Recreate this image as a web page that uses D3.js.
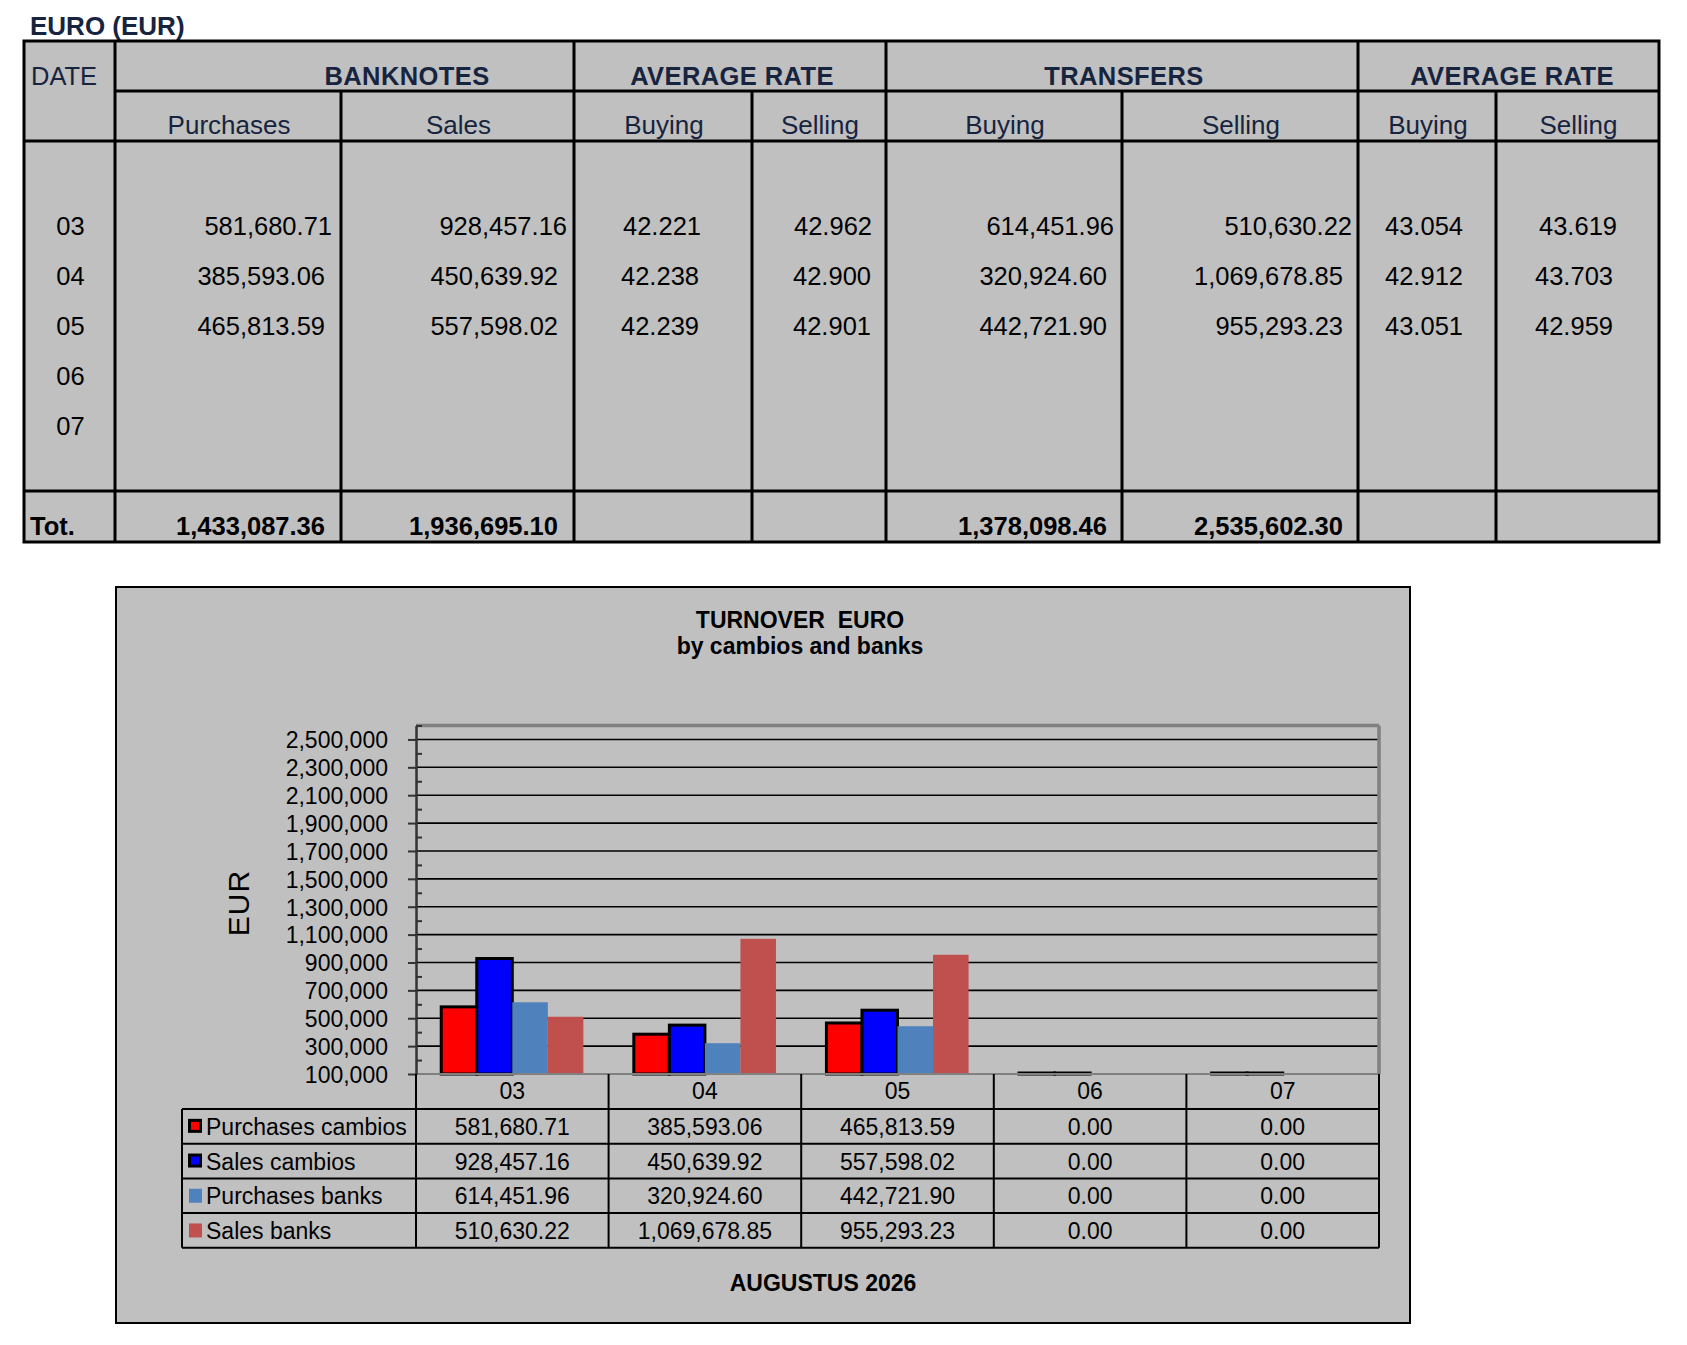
<!DOCTYPE html>
<html>
<head>
<meta charset="utf-8">
<script src="https://cdn.jsdelivr.net/npm/d3@7"></script>
<style>
  body { margin: 0; background: #fff; }
  text { font-family: "Liberation Sans", Arial, sans-serif; }
</style>
</head>
<body>
<svg id="chart" width="1687" height="1345"></svg>
<script>
// ---- data
const dates = ["03", "04", "05", "06", "07"];

// banknotes (cambios)
const bankPurchases = [581680.71, 385593.06, 465813.59, null, null];
const bankSales = [928457.16, 450639.92, 557598.02, null, null];
const bankAvgBuying = [42.221, 42.238, 42.239, null, null];
const bankAvgSelling = [42.962, 42.900, 42.901, null, null];

// transfers (banks)
const transferBuying = [614451.96, 320924.60, 442721.90, null, null];
const transferSelling = [510630.22, 1069678.85, 955293.23, null, null];
const transferAvgBuying = [43.054, 42.912, 43.051, null, null];
const transferAvgSelling = [43.619, 43.703, 42.959, null, null];

// chart series, as shown in the chart's data table
const seriesNames = ["Purchases cambios", "Sales cambios", "Purchases banks", "Sales banks"];
const purchasesCambios = [581680.71, 385593.06, 465813.59, 0, 0];
const salesCambios = [928457.16, 450639.92, 557598.02, 0, 0];
const purchasesBanks = [614451.96, 320924.60, 442721.90, 0, 0];
const salesBanks = [510630.22, 1069678.85, 955293.23, 0, 0];

const yTicks = d3.range(100000, 2500001, 200000);
const yMinorTicks = d3.range(200000, 2600001, 200000);

const money = d3.format(",.2f");
const rate = d3.format(".3f");
const navy = "#17243f";
const tfs = 25.5;   // table font size
const cfs = 23;     // chart font size

const svg = d3.select("#chart");

function line(g, x1, y1, x2, y2, w, c) {
  g.append("line")
    .attr("x1", x1).attr("y1", y1).attr("x2", x2).attr("y2", y2)
    .attr("stroke", c || "#000").attr("stroke-width", w || 3);
}

// ================= top table =================
const colX = [24, 115, 341, 574, 752, 886, 1122, 1358, 1496, 1659];
const tTop = 41, tHead1 = 91, tHead2 = 141, tTotal = 491, tBottom = 542;
const tbl = svg.append("g");

tbl.append("text").attr("x", 30).attr("y", 35)
  .attr("font-size", 26).attr("font-weight", "bold").attr("fill", navy)
  .text("EURO (EUR)");

tbl.append("rect").attr("x", colX[0]).attr("y", tTop)
  .attr("width", colX[9] - colX[0]).attr("height", tBottom - tTop)
  .attr("fill", "#c0c0c0");

// grid lines
line(tbl, colX[1], tHead1, colX[9], tHead1);
line(tbl, colX[0], tHead2, colX[9], tHead2);
line(tbl, colX[0], tTotal, colX[9], tTotal);
[1, 3, 5, 7].forEach(i => line(tbl, colX[i], tTop, colX[i], tBottom));
[2, 4, 6, 8].forEach(i => line(tbl, colX[i], tHead1, colX[i], tBottom));
tbl.append("rect").attr("x", colX[0]).attr("y", tTop)
  .attr("width", colX[9] - colX[0]).attr("height", tBottom - tTop)
  .attr("fill", "none").attr("stroke", "#000").attr("stroke-width", 3);

// headers
tbl.append("text").attr("x", 31).attr("y", 85).attr("font-size", tfs)
  .attr("fill", navy).text("DATE");
const groups = [
  {label: "BANKNOTES", x: 407},
  {label: "AVERAGE RATE", x: 732},
  {label: "TRANSFERS", x: 1124},
  {label: "AVERAGE RATE", x: 1512}
];
tbl.selectAll(".grp").data(groups).join("text")
  .attr("x", d => d.x).attr("y", 85).attr("text-anchor", "middle")
  .attr("font-size", tfs).attr("font-weight", "bold").attr("fill", navy)
  .attr("letter-spacing", 0.4)
  .text(d => d.label);
const subHeads = ["Purchases", "Sales", "Buying", "Selling", "Buying", "Selling", "Buying", "Selling"];
tbl.selectAll(".sub").data(subHeads).join("text")
  .attr("x", (d, i) => (colX[i + 1] + colX[i + 2]) / 2 + 1)
  .attr("y", 134).attr("text-anchor", "middle")
  .attr("font-size", 26).attr("fill", navy)
  .text(d => d);

// body rows
const rowY = d3.scaleBand().domain(dates).range([202, 452]);
tbl.selectAll(".date").data(dates).join("text")
  .attr("x", (colX[0] + colX[1]) / 2 + 1).attr("y", d => rowY(d) + 33)
  .attr("text-anchor", "middle").attr("font-size", tfs).attr("fill", "#000")
  .text(d => d);

const tableCols = [
  {values: bankPurchases, fmt: money, x: 325, shift: 7, anchor: "end", total: true},
  {values: bankSales, fmt: money, x: 558, shift: 9, anchor: "end", total: true},
  {values: bankAvgBuying, fmt: rate, x: 699, shift: 2, anchor: "end"},
  {values: bankAvgSelling, fmt: rate, x: 871, shift: 1, anchor: "end"},
  {values: transferBuying, fmt: money, x: 1107, shift: 7, anchor: "end", total: true},
  {values: transferSelling, fmt: money, x: 1343, shift: 9, anchor: "end", total: true},
  {values: transferAvgBuying, fmt: rate, x: 1385, shift: 0, anchor: "start"},
  {values: transferAvgSelling, fmt: rate, x: 1613, shift: 4, anchor: "end"}
];
tableCols.forEach(col => {
  const cells = dates.map((d, i) => ({date: d, v: col.values[i], first: i === 0}))
    .filter(c => c.v != null);
  tbl.append("g").selectAll("text").data(cells).join("text")
    .attr("x", c => col.x + (c.first ? col.shift : 0))
    .attr("y", c => rowY(c.date) + 33)
    .attr("text-anchor", col.anchor).attr("font-size", tfs).attr("fill", "#000")
    .text(c => col.fmt(c.v));
  if (col.total) {
    tbl.append("text").attr("x", col.x).attr("y", 535)
      .attr("text-anchor", "end").attr("font-size", tfs).attr("font-weight", "bold")
      .text(money(d3.sum(col.values)));
  }
});
tbl.append("text").attr("x", 30).attr("y", 535)
  .attr("font-size", tfs).attr("font-weight", "bold").text("Tot.");

// ================= chart =================
const ch = svg.append("g");
ch.append("rect").attr("x", 116).attr("y", 587).attr("width", 1294).attr("height", 736)
  .attr("fill", "#c0c0c0").attr("stroke", "#000").attr("stroke-width", 2);

ch.append("text").attr("x", 800).attr("y", 628).attr("text-anchor", "middle")
  .attr("font-size", cfs).attr("font-weight", "bold")
  .style("white-space", "pre")
  .text("TURNOVER  EURO");
ch.append("text").attr("x", 800).attr("y", 654).attr("text-anchor", "middle")
  .attr("font-size", cfs).attr("font-weight", "bold")
  .text("by cambios and banks");

const plotL = 416, plotR = 1379, plotT = 725.5, plotB = 1074;
const x = d3.scaleBand().domain(dates).range([plotL, plotR]);
const xs = d3.scaleBand().domain(seriesNames).range([0, x.bandwidth()])
  .paddingInner(0).paddingOuter(0.71);
const y = d3.scaleLinear().domain([100000, 2600000]).range([plotB, plotT]).clamp(true);

// gridlines
ch.append("g").selectAll("line").data(yTicks).join("line")
  .attr("x1", plotL).attr("x2", plotR).attr("y1", d => y(d)).attr("y2", d => y(d))
  .attr("stroke", "#000").attr("stroke-width", 1.6);

// plot frame (top and right in grey)
line(ch, plotL, plotT, plotR, plotT, 3.5, "#808080");
line(ch, plotR, plotT, plotR, plotB, 3.5, "#808080");

// bars
const series = [
  {name: seriesNames[0], values: purchasesCambios, color: "#ff0000", outline: true},
  {name: seriesNames[1], values: salesCambios, color: "#0000ff", outline: true},
  {name: seriesNames[2], values: purchasesBanks, color: "#4f81bd", outline: false},
  {name: seriesNames[3], values: salesBanks, color: "#c0504d", outline: false}
];
series.forEach(s => {
  ch.append("g").selectAll("rect").data(dates.map((d, i) => ({date: d, v: s.values[i]})))
    .join("rect")
    .attr("x", d => x(d.date) + xs(s.name))
    .attr("width", xs.bandwidth())
    .attr("y", d => Math.min(y(d.v), plotB - 1))
    .attr("height", d => Math.max(1, plotB - y(d.v)))
    .attr("fill", s.color)
    .attr("stroke", s.outline ? "#000" : "none")
    .attr("stroke-width", s.outline ? 3 : 0);
});

line(ch, plotL, plotB, plotR, plotB, 2, "#808080");

// y axis
const yAxis = ch.append("g").attr("transform", `translate(${plotL},0)`)
  .call(d3.axisLeft(y).tickValues(yTicks).tickSize(8).tickSizeOuter(0).tickPadding(20)
    .tickFormat(d3.format(",")));
yAxis.select(".domain").attr("stroke", "#333").attr("stroke-width", 2.5);
yAxis.selectAll(".tick line").attr("stroke", "#333").attr("stroke-width", 2);
yAxis.selectAll(".tick text").attr("font-size", cfs).attr("fill", "#000")
  .attr("dy", "0.36em")
  .style("font-family", '"Liberation Sans", Arial, sans-serif');
const yMinor = ch.append("g").attr("transform", `translate(${plotL},0)`)
  .call(d3.axisRight(y).tickValues(yMinorTicks).tickSize(6).tickFormat(""));
yMinor.select(".domain").remove();
yMinor.selectAll(".tick line").attr("stroke", "#333").attr("stroke-width", 2);

ch.append("text").attr("transform", "translate(249,903) rotate(-90)")
  .attr("text-anchor", "middle").attr("font-size", 30).attr("letter-spacing", 1)
  .text("EUR");

// data table under the chart
const dtL = 182, dtHead = plotB, rowH = 34.7, dtTop = 1109;
const dtRows = d3.range(series.length + 1).map(i => dtTop + i * rowH);
dtRows.forEach(yy => line(ch, dtL, yy, plotR, yy, 2));
line(ch, dtL, dtTop, dtL, dtRows[dtRows.length - 1], 2);
x.domain().forEach(d => line(ch, x(d), dtHead, x(d), dtRows[dtRows.length - 1], 2));
line(ch, plotR, dtHead, plotR, dtRows[dtRows.length - 1], 2);

ch.append("g").selectAll("text").data(dates).join("text")
  .attr("x", d => x(d) + x.bandwidth() / 2).attr("y", 1099)
  .attr("text-anchor", "middle").attr("font-size", cfs)
  .text(d => d);

series.forEach((s, si) => {
  const top = dtRows[si];
  const mid = top + rowH / 2;
  if (s.outline) {
    ch.append("rect").attr("x", 189.5).attr("y", mid - 6).attr("width", 11).attr("height", 11)
      .attr("fill", s.color).attr("stroke", "#000").attr("stroke-width", 3);
  } else {
    ch.append("rect").attr("x", 189).attr("y", mid - 7).attr("width", 13).attr("height", 14)
      .attr("fill", s.color);
  }
  ch.append("text").attr("x", 206).attr("y", top + 26)
    .attr("font-size", cfs).text(s.name);
  ch.append("g").selectAll("text").data(dates.map((d, i) => ({date: d, v: s.values[i]})))
    .join("text")
    .attr("x", d => x(d.date) + x.bandwidth() / 2).attr("y", top + 26)
    .attr("text-anchor", "middle").attr("font-size", cfs)
    .text(d => money(d.v));
});

ch.append("text").attr("x", 823).attr("y", 1291).attr("text-anchor", "middle")
  .attr("font-size", cfs).attr("font-weight", "bold")
  .text("AUGUSTUS 2026");
</script>
</body>
</html>
